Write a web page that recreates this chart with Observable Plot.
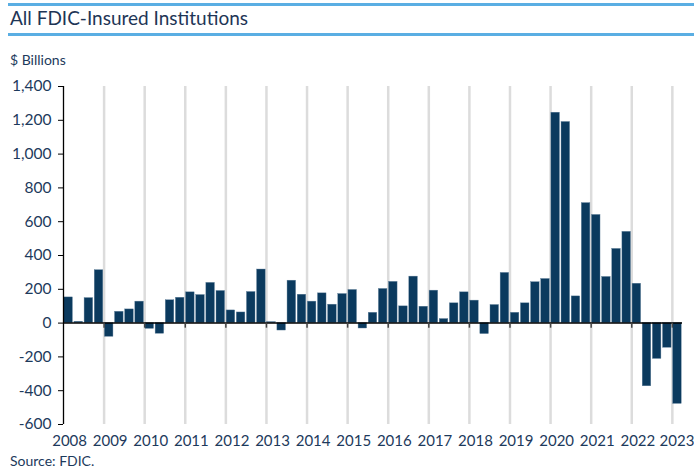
<!DOCTYPE html>
<html>
<head>
<meta charset="utf-8">
<script src="https://cdn.jsdelivr.net/npm/d3@7"></script>
<script src="https://cdn.jsdelivr.net/npm/@observablehq/plot@0.6"></script>
<style>
  html, body { margin: 0; padding: 0; background: #fff; }
  body { width: 694px; height: 470px; position: relative; overflow: hidden; font-family: Lato, sans-serif; color: #1d3a5c; }
  .rule { position: absolute; left: 8px; right: 0; height: 2.5px; background: #5aaee3; }
  #title { position: absolute; left: 10px; top: 6px; font-size: 19px; color: #1e3556; white-space: nowrap; }
  #unit { position: absolute; left: 10px; top: 51px; font-size: 14px; }
  #chart { position: absolute; left: 0; top: 70px; }
  #source { position: absolute; left: 10px; top: 452px; font-size: 14px; }
</style>
</head>
<body>
<div class="rule" style="top:3px"></div>
<div id="title">All FDIC-Insured Institutions</div>
<div class="rule" style="top:33px"></div>
<div id="unit">$ Billions</div>
<div id="chart"></div>
<div id="source">Source: FDIC.</div>
<script>
const quarters = [
  "2008 Q1","2008 Q2","2008 Q3","2008 Q4","2009 Q1","2009 Q2","2009 Q3","2009 Q4",
  "2010 Q1","2010 Q2","2010 Q3","2010 Q4","2011 Q1","2011 Q2","2011 Q3","2011 Q4",
  "2012 Q1","2012 Q2","2012 Q3","2012 Q4","2013 Q1","2013 Q2","2013 Q3","2013 Q4",
  "2014 Q1","2014 Q2","2014 Q3","2014 Q4","2015 Q1","2015 Q2","2015 Q3","2015 Q4",
  "2016 Q1","2016 Q2","2016 Q3","2016 Q4","2017 Q1","2017 Q2","2017 Q3","2017 Q4",
  "2018 Q1","2018 Q2","2018 Q3","2018 Q4","2019 Q1","2019 Q2","2019 Q3","2019 Q4",
  "2020 Q1","2020 Q2","2020 Q3","2020 Q4","2021 Q1","2021 Q2","2021 Q3","2021 Q4",
  "2022 Q1","2022 Q2","2022 Q3","2022 Q4","2023 Q1"
];
const values = [
  152, 8, 148, 313,
  -81, 67, 81, 127,
  -34, -63, 135, 150,
  182, 166, 238, 190,
  75, 63, 184, 317,
  6, -44, 251, 168,
  127, 176, 109, 172,
  196, -32, 61, 202,
  244, 99, 275, 97,
  192, 24, 117, 182,
  133, -65, 107, 297,
  61, 117, 242, 261,
  1245, 1190, 158, 710,
  640, 273, 439, 540,
  233, -374, -212, -146,
  -478
];
const yearLabels = [2008,2009,2010,2011,2012,2013,2014,2015,2016,2017,2018,2019,2020,2021,2022,2023];
const yTicks = [-600,-400,-200,0,200,400,600,800,1000,1200,1400];

const data = quarters.map((q, i) => ({
  t: +q.slice(0, 4) + (+q.slice(6) - 1) / 4,
  v: values[i]
}));
const gridYears = yearLabels.slice(1);
const lastYear = yearLabels[yearLabels.length - 1];

const chart = Plot.plot({
  width: 694,
  height: 382,
  marginLeft: 63,
  marginRight: 12,
  marginTop: 16,
  marginBottom: 28,
  style: { fontFamily: "Lato, sans-serif", fontSize: "15.5px", color: "#1d3a5c", background: "transparent", overflow: "visible" },
  x: { domain: [2008, 2023.25] },
  y: { domain: [-600, 1400] },
  marks: [
    Plot.ruleX(gridYears, { stroke: "#dcdcdc", strokeWidth: 2.5 }),
    Plot.rectY(data, { x1: "t", x2: d => d.t + 0.25, y: "v", fill: "#0b3a5e", stroke: "#5f7f9a", strokeWidth: 0.4, insetLeft: 0.8, insetRight: 0.8 }),
    Plot.ruleY([0], { stroke: "#000", strokeWidth: 1.5 }),
    Plot.ruleX(gridYears, { y1: 0, y2: -30, stroke: "#444", strokeWidth: 1.5 }),
    Plot.axisY({ ticks: yTicks, tickFormat: d => d.toLocaleString("en-US"), tickSize: 5, tickPadding: 7, label: null, stroke: "#000", fill: "#1d3a5c" }),
    Plot.ruleX([2008], { stroke: "#000", strokeWidth: 1.3 }),
    Plot.axisX({ ticks: yearLabels.slice(0, -1).map(y => y + 0.15), tickFormat: d => String(Math.floor(d)), tickSize: 0, tickPadding: 11, label: null, fill: "#1d3a5c", fontSize: 15 }),
    Plot.axisX({ ticks: [lastYear + 0.15], tickFormat: d => String(Math.floor(d)), tickSize: 0, tickPadding: 11, label: null, fill: "#1d3a5c", fontSize: 15, dx: -1.5 })
  ]
});
document.getElementById("chart").appendChild(chart);
</script>
</body>
</html>
